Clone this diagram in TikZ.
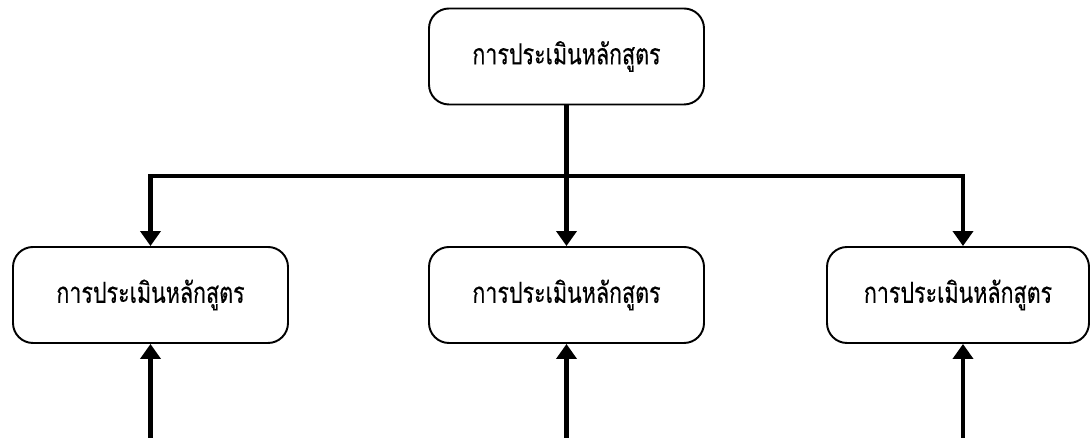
\documentclass[tikz,border=0pt]{standalone}
\usepackage{fontspec}
\newfontfamily\thaifont[Script=Thai, FakeStretch=0.74, FakeBold=0.3]{Loma}
\usetikzlibrary{arrows.meta}
\usetikzlibrary{positioning}
\tikzset{
    mybox/.style = {rectangle, rounded corners=0.4cm, draw=black, line width=1.1pt, align=center, fill=white, minimum width=5.5cm, minimum height=1.92cm, font=\thaifont\fontsize{16.5}{18}\selectfont},
    edgen/.style = {line width=2.3pt},
    edgea/.style = {line width=2.3pt, -{Triangle[width=0.4cm,length=0.3cm]}},
}

\begin{document}
\begin{tikzpicture}
\useasboundingbox (0,0) rectangle (21.82,-8.76);
%
\node[mybox] at (11.33,-1.13) (t) {การประเมินหลักสูตร};
\node[mybox] at (3.01,-5.9) (l) {การประเมินหลักสูตร};
\node[mybox] at (11.33,-5.9) (m) {การประเมินหลักสูตร};
\node[mybox, minimum width=5.24cm] at (19.16,-5.9) (r) {การประเมินหลักสูตร};
%
\coordinate (jm) at (11.33,-3.52);
\coordinate (jr) at (19.26,-3.52);
\coordinate (bot) at (0,-9.2);
%
\draw[edgea] (t.south) -- (m.north);
\draw[edgea] (jm) -| (l.north);
\draw[edgea] (jm) -| (jr |- r.north);
%
\draw[edgea] (l.south |- bot) -- (l.south);
\draw[edgea] (m.south |- bot) -- (m.south);
\draw[edgea] (jr |- bot) -- (jr |- r.south);
\end{tikzpicture}
\end{document}
